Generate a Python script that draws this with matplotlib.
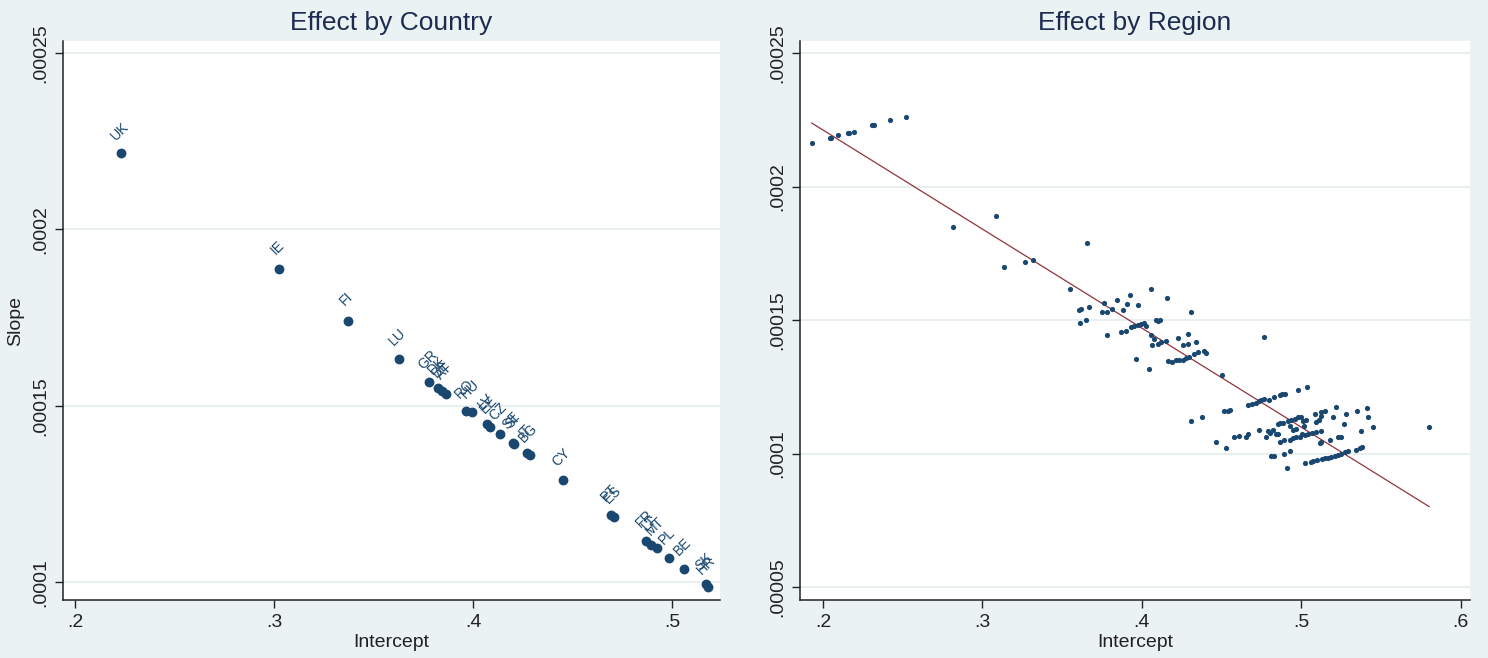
import matplotlib
matplotlib.use("Agg")
import matplotlib.pyplot as plt
from matplotlib import font_manager
import numpy as np

# ---- data: effect by country ----
countries = ["UK", "IE", "FI", "LU", "GR", "DK", "DE", "AT", "RO", "HU",
             "LV", "EE", "CZ", "SE", "SI", "IT", "BG", "CY", "PT", "ES",
             "FR", "LT", "MT", "PL", "BE", "SK", "HR"]
country_intercept = [0.2229, 0.3023, 0.3369, 0.3626, 0.3776, 0.3822, 0.3842, 0.3862, 0.3962, 0.3992,
                     0.4068, 0.4083, 0.4133, 0.4198, 0.4203, 0.4269, 0.4284, 0.4450, 0.4691, 0.4706,
                     0.4867, 0.4892, 0.4922, 0.4982, 0.5058, 0.5168, 0.5178]
country_slope = [2.2160, 1.8864, 1.7415, 1.6335, 1.5682, 1.5512, 1.5426, 1.5341, 1.4858, 1.4830,
                 1.4489, 1.4404, 1.4205, 1.3949, 1.3921, 1.3665, 1.3608, 1.2898, 1.1903, 1.1847,
                 1.1165, 1.1051, 1.0966, 1.0682, 1.0369, 0.9943, 0.9858]  # x 1e-4

# ---- data: effect by region ----
region_intercept = [
    0.1929, 0.2041, 0.2048, 0.2094, 0.2155, 0.2165, 0.2197, 0.2308, 0.2321, 0.2423,
    0.2518, 0.2816, 0.3082, 0.3137, 0.3266, 0.3316, 0.3659, 0.3552, 0.3606, 0.3621,
    0.3669, 0.3612, 0.3652, 0.3762, 0.3752, 0.3784, 0.3815, 0.3847, 0.3926, 0.3910,
    0.3879, 0.3979, 0.4057, 0.4157, 0.4308, 0.3784, 0.3868, 0.3899, 0.3931, 0.3952,
    0.3973, 0.3994, 0.4011, 0.4025, 0.4088, 0.4103, 0.4115, 0.4057, 0.4077, 0.4063,
    0.4099, 0.4120, 0.4151, 0.4225, 0.4291, 0.4256, 0.4288, 0.4340, 0.3964, 0.4042,
    0.4162, 0.4187, 0.4214, 0.4235, 0.4256, 0.4277, 0.4298, 0.4329, 0.4354, 0.4388,
    0.4403, 0.4769, 0.4501, 0.4308, 0.4377, 0.4465, 0.4528, 0.4518, 0.4539, 0.4554,
    0.4581, 0.4612, 0.4654, 0.4669, 0.4669, 0.4690, 0.4717, 0.4734, 0.4748, 0.4766,
    0.4801, 0.4832, 0.4864, 0.4881, 0.4900, 0.4981, 0.5036, 0.4738, 0.4780, 0.4791,
    0.4805, 0.4822, 0.4839, 0.4854, 0.4854, 0.4870, 0.4885, 0.4811, 0.4832, 0.4895,
    0.4927, 0.4912, 0.4868, 0.4895, 0.4927, 0.4948, 0.4969, 0.4990, 0.4916, 0.4937,
    0.4958, 0.4983, 0.5000, 0.4927, 0.4948, 0.4969, 0.5011, 0.5032, 0.5015, 0.5004,
    0.5025, 0.5042, 0.5067, 0.5094, 0.5122, 0.5084, 0.5122, 0.5151, 0.5094, 0.5109,
    0.5122, 0.5216, 0.5200, 0.5279, 0.5271, 0.5348, 0.5411, 0.5420, 0.5451, 0.5373,
    0.5803, 0.5025, 0.5063, 0.5074, 0.5101, 0.5130, 0.5147, 0.5168, 0.5189, 0.5210,
    0.5231, 0.5252, 0.5273, 0.5294, 0.5346, 0.5367, 0.5382, 0.5115, 0.5126, 0.5178,
    0.5231, 0.5248]
region_slope = [  # x 1e-4
    2.164, 2.182, 2.182, 2.192, 2.201, 2.201, 2.206, 2.229, 2.229, 2.248,
    2.262, 1.8475, 1.890, 1.699, 1.718, 1.7265, 1.7876, 1.6153, 1.5367, 1.5404,
    1.5505, 1.4895, 1.4992, 1.5644, 1.5307, 1.5307, 1.5419, 1.5767, 1.5928, 1.5606,
    1.5367, 1.5554, 1.6153, 1.5831, 1.5318, 1.4430, 1.4569, 1.4606, 1.4745, 1.4767,
    1.4820, 1.4869, 1.4895, 1.4794, 1.5018, 1.4981, 1.4992, 1.4430, 1.4307, 1.4056,
    1.4120, 1.4168, 1.4206, 1.4333, 1.4483, 1.4056, 1.4108, 1.4194, 1.3547, 1.3172,
    1.3472, 1.3419, 1.3520, 1.3494, 1.3509, 1.3569, 1.3621, 1.3745, 1.3794, 1.3831,
    1.3771, 1.4382, 1.2932, 1.1210, 1.1374, 1.0423, 1.0198, 1.1584, 1.1610, 1.1637,
    1.0625, 1.0663, 1.0625, 1.0749, 1.1809, 1.1846, 1.1899, 1.1974, 1.2011, 1.2034,
    1.2022, 1.2108, 1.2198, 1.2221, 1.2247, 1.2386, 1.2483, 1.0899, 1.0625, 1.0835,
    1.0775, 1.0873, 1.0749, 1.0749, 1.1112, 1.1135, 1.1150, 0.9899, 0.9925, 1.0000,
    1.0086, 0.9449, 1.0438, 1.0498, 1.0524, 1.0573, 1.0610, 1.0625, 1.1210, 1.1273,
    1.1300, 1.1359, 1.1374, 1.1022, 1.0899, 1.0936, 1.1210, 1.1273, 1.1049, 1.0749,
    1.0700, 1.0749, 1.0786, 1.0824, 1.0835, 1.1498, 1.1573, 1.1599, 1.1172, 1.1273,
    1.1423, 1.1734, 1.1359, 1.1498, 1.1124, 1.1599, 1.1696, 1.1359, 1.0985, 1.0850,
    1.0985, 0.9637, 0.9674, 0.9727, 0.9775, 0.9813, 0.9824, 0.9850, 0.9888, 0.9925,
    0.9951, 1.0000, 1.0049, 1.0101, 1.0150, 1.0213, 1.0251, 1.0401, 1.0449, 1.0513,
    1.0610, 1.0610]

left_yticks = [0.0001, 0.00015, 0.0002, 0.00025]
left_yticklabels = [".0001", ".00015", ".0002", ".00025"]
left_xticks = [0.2, 0.3, 0.4, 0.5]
left_xticklabels = [".2", ".3", ".4", ".5"]
right_yticks = [0.00005, 0.0001, 0.00015, 0.0002, 0.00025]
right_yticklabels = [".00005", ".0001", ".00015", ".0002", ".00025"]
right_xticks = [0.2, 0.3, 0.4, 0.5, 0.6]
right_xticklabels = [".2", ".3", ".4", ".5", ".6"]

# fonts: Stata-like narrow Arial if available
names = {f.name for f in font_manager.fontManager.ttflist}
narrow = "Liberation Sans Narrow" if "Liberation Sans Narrow" in names else "Liberation Sans"
plt.rcParams['font.family'] = [narrow, 'DejaVu Sans']

bg = '#EAF2F3'
navy = '#1A476F'
maroon = '#90353B'
grid_c = '#E4ECEF'
title_c = '#1C2B4F'

fig = plt.figure(figsize=(14.88, 6.58), dpi=100, facecolor=bg)
ax1 = fig.add_axes([0.0423, 0.088, 0.4415, 0.8497])
ax2 = fig.add_axes([0.5376, 0.088, 0.4504, 0.8497])

c_x = np.array(country_intercept)
c_y = np.array(country_slope) * 1e-4
r_x = np.array(region_intercept)
r_y = np.array(region_slope) * 1e-4


def style(ax, xticks, xlabels, yticks, ylabels):
    ax.set_facecolor('white')
    for s in ['top', 'right']:
        ax.spines[s].set_visible(False)
    for s in ['left', 'bottom']:
        ax.spines[s].set_color('#222222')
        ax.spines[s].set_linewidth(1.1)
    ax.set_xticks(xticks)
    ax.set_xticklabels(xlabels, fontsize=14, color='#222222')
    ax.set_yticks(yticks)
    ax.set_yticklabels(ylabels, fontsize=14, color='#222222', rotation=90, va='center')
    ax.tick_params(length=6, width=1, color='#222222', pad=4)
    ax.grid(axis='y', color=grid_c, linewidth=1.2)
    ax.set_axisbelow(True)


# left: by country
ax1.scatter(c_x, c_y, s=50, color=navy, zorder=3, linewidths=0)
for name, x, y in zip(countries, c_x, c_y):
    ax1.annotate(name, (x, y), xytext=(-1, 16), textcoords='offset points',
                 rotation=45, ha='center', va='center', fontsize=10, color=navy)
style(ax1, left_xticks, left_xticklabels, left_yticks, left_yticklabels)
ax1.set_xlim(0.1937, 0.524)
ax1.set_ylim(0.0000949, 0.0002534)
ax1.set_xlabel("Intercept", fontsize=14, color='#222222', labelpad=2)
ax1.set_ylabel("Slope", fontsize=14, color='#222222', labelpad=6)
ax1.set_title("Effect by Country", fontsize=19, color=title_c, pad=8,
              family=['Liberation Sans', 'DejaVu Sans'])

# right: by region with linear fit
ax2.scatter(r_x, r_y, s=14, color=navy, zorder=3, linewidths=0)
b, a = np.polyfit(r_x, r_y, 1)
fx = np.array([r_x.min(), r_x.max()])
ax2.plot(fx, a + b * fx, color=maroon, linewidth=0.9, zorder=2)
style(ax2, right_xticks, right_xticklabels, right_yticks, right_yticklabels)
ax2.set_xlim(0.1855, 0.606)
ax2.set_ylim(0.0000451, 0.0002545)
ax2.set_xlabel("Intercept", fontsize=14, color='#222222', labelpad=2)
ax2.set_title("Effect by Region", fontsize=19, color=title_c, pad=8,
              family=['Liberation Sans', 'DejaVu Sans'])

fig.savefig("out.png", dpi=100, facecolor=bg)
